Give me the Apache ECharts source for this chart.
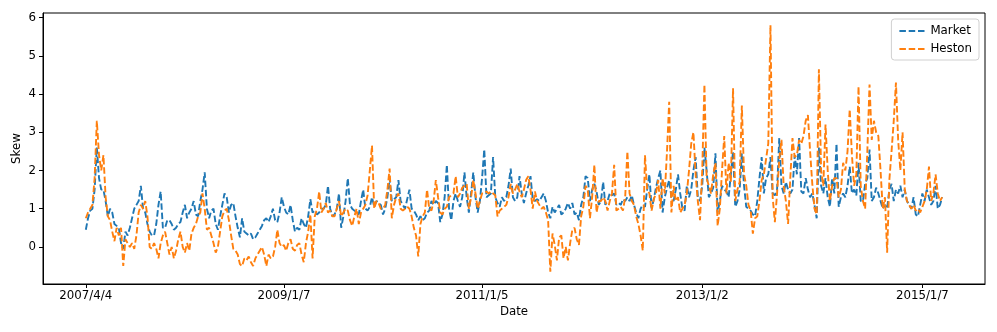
<!DOCTYPE html>
<html>
<head>
<meta charset="utf-8">
<script src="https://cdn.jsdelivr.net/npm/echarts@6/dist/echarts.min.js"></script>
<style>
  html, body { margin: 0; padding: 0; background: #fff; }
  #chart { width: 997px; height: 332px; }
</style>
</head>
<body>
<div id="chart"></div>
<script>
  // tick positions (point index) and their date labels
  let tickIndex = [0, 90, 180, 280, 380];
  let tickLabels = ['2007/4/4', '2009/1/7', '2011/1/5', '2013/1/2', '2015/1/7'];

  let market = [
    0.45, 0.75, 0.95, 1.0, 1.5, 2.6, 1.8, 1.5, 1.5, 1.2,
    0.8, 1.0, 0.9, 0.6, 0.55, 0.5, 0.1, -0.05, 0.4, 0.3,
    0.5, 0.75, 1.0, 1.1, 1.2, 1.6, 1.0, 0.9, 0.6, 0.4,
    0.3, 0.3, 0.6, 1.1, 1.45, 0.5, 0.5, 0.7, 0.7, 0.6,
    0.45, 0.5, 0.6, 0.65, 0.9, 1.1, 0.75, 0.9, 1.0, 1.2,
    0.85, 0.8, 1.2, 1.5, 1.95, 1.0, 0.75, 0.95, 1.0, 0.6,
    0.45, 0.8, 1.1, 1.4, 1.3, 0.9, 1.1, 1.15, 0.8, 0.5,
    0.25, 0.75, 0.4, 0.35, 0.3, 0.35, 0.2, 0.25, 0.35, 0.45,
    0.55, 0.7, 0.75, 0.65, 0.8, 1.0, 0.7, 0.65, 0.9, 1.3,
    1.05, 0.9, 0.85, 1.1, 0.7, 0.4, 0.5, 0.45, 0.75, 0.6,
    0.5, 0.8, 1.25, 0.9, 0.95, 0.85, 0.9, 1.0, 1.0, 1.1,
    1.6, 1.0, 0.8, 0.85, 1.0, 1.4, 0.5, 0.8, 1.2, 1.8,
    1.1, 1.0, 0.95, 0.9, 0.85, 1.2, 1.5, 1.0, 0.95, 1.05,
    1.3, 1.05, 1.2, 1.15, 1.1, 0.85, 1.0, 1.3, 1.8, 1.2,
    1.25, 1.3, 1.75, 1.2, 1.1, 1.0, 1.25, 1.5, 1.0, 0.95,
    0.85, 0.7, 0.8, 0.7, 0.75, 0.9, 0.95, 1.2, 1.1, 1.2,
    1.15, 0.65, 0.85, 1.3, 2.15, 1.0, 0.7, 1.2, 1.4, 1.2,
    1.05, 1.3, 1.95, 1.3, 0.9, 1.4, 1.95, 1.3, 0.9, 1.2,
    1.8, 2.55, 1.3, 1.35, 1.4, 2.35, 1.3, 1.15, 1.05, 1.3,
    1.2, 1.3, 1.6, 2.05, 1.3, 1.2, 1.3, 1.85, 1.4, 1.15,
    1.4, 1.6, 1.85, 1.25, 1.2, 1.25, 1.2, 1.3, 1.4, 1.2,
    0.9, 0.75, 1.05, 0.9, 1.0, 1.1, 0.85, 0.9, 1.0, 1.15,
    1.0, 1.15, 0.85, 0.9, 0.7, 1.1, 1.3, 1.85, 1.8, 1.2,
    1.5, 1.65, 1.45, 1.1, 1.2, 1.7, 1.1, 1.2, 1.4, 1.35,
    1.4, 1.1, 1.15, 1.1, 1.25, 1.2, 1.3, 1.2, 1.35, 1.1,
    0.9, 0.75, 1.0, 1.1, 1.05, 1.5, 1.9, 1.0, 1.25, 1.55,
    1.8, 2.0, 0.9, 1.3, 1.55, 1.75, 1.3, 1.2, 1.5, 1.9,
    1.4, 1.0, 0.95, 1.6, 1.3, 1.5, 2.0, 2.35, 1.3, 1.2,
    1.6, 2.6, 2.0, 1.3, 1.4, 1.55, 2.45, 0.9, 1.2, 1.6,
    1.5, 1.45, 1.3, 1.9, 2.5, 1.05, 1.2, 1.5, 2.45, 1.6,
    1.05, 1.0, 0.95, 0.85, 0.8, 1.2, 1.8, 2.35, 1.4, 1.8,
    1.9, 2.35, 1.4, 1.35, 1.5, 2.85, 1.6, 1.4, 1.7, 1.5,
    1.4, 1.5, 2.4, 1.9, 2.85, 1.45, 1.4, 1.8, 1.5, 1.3,
    1.4, 1.1, 0.75, 2.6, 1.6, 1.4, 1.8, 1.3, 1.05, 1.8,
    1.4, 2.7, 1.05, 1.3, 1.4, 1.3, 1.6, 2.1, 1.4, 1.5,
    1.35, 2.2, 1.2, 1.2, 1.65, 1.8, 2.55, 1.2, 1.3, 1.55,
    1.4, 1.2, 1.0, 1.1, 1.0, 1.5, 1.65, 1.2, 1.5, 1.4,
    1.6, 1.3, 1.5, 1.2, 1.1, 1.0, 1.3, 0.85, 0.8, 1.1,
    1.4, 1.2, 1.5, 1.3, 1.1, 1.2, 1.6, 1.0, 1.1, 1.3
  ];

  let heston = [
    0.75, 0.9, 1.0, 1.1, 1.8, 3.3, 2.4, 2.0, 2.4, 1.3,
    0.8, 0.7, 0.4, 0.15, 0.5, 0.3, 0.5, -0.5, 0.2, 0.1,
    0.0, 0.1, -0.05, 0.3, 0.9, 1.1, 1.0, 1.2, 0.8, 0.0,
    -0.05, 0.1, -0.05, -0.3, 0.1, 0.3, 0.4, 0.1, -0.2, 0.0,
    -0.3, -0.1, 0.2, 0.4, 0.0, -0.15, 0.1, -0.1, 0.35, 0.5,
    0.6, 0.8, 0.9, 1.4, 1.0, 0.45, 0.5, 0.3, 0.1, -0.15,
    0.0, 0.4, 0.8, 0.95, 1.0, 0.7, 0.3, -0.05, -0.1, -0.2,
    -0.45, -0.5, -0.3, -0.35, -0.25, -0.4, -0.5, -0.3, -0.2, -0.1,
    0.0, -0.2, -0.5, -0.2, -0.3, -0.25, 0.0, 0.45, 0.1, 0.0,
    0.05, -0.1, 0.1, 0.2, -0.05, -0.1, 0.05, 0.1, -0.2, -0.4,
    0.1, 0.4, 0.85, -0.3, 0.8, 1.0, 1.45, 0.9, 1.0, 1.15,
    0.9, 0.95, 0.8, 0.8, 1.0, 1.2, 0.8, 0.9, 1.0, 0.95,
    0.7, 0.55, 0.8, 1.0, 0.6, 0.9, 1.0, 1.1, 1.35, 2.0,
    2.65, 1.0, 1.2, 1.15, 1.0, 1.0, 1.1, 1.5, 2.05, 0.75,
    1.1, 1.3, 1.4, 1.0, 0.95, 1.0, 1.05, 1.0, 0.8, 0.5,
    0.3, -0.25, 0.6, 0.8, 0.9, 1.5, 1.0, 0.95, 1.2, 1.75,
    1.3, 0.9, 0.85, 1.0, 1.05, 1.3, 1.35, 1.4, 1.85, 1.3,
    1.4, 1.55, 1.6, 1.65, 1.0, 1.3, 1.75, 1.4, 1.0, 1.2,
    1.4, 1.4, 1.45, 1.4, 1.45, 1.4, 1.35, 0.8, 0.95, 1.0,
    1.05, 1.1, 1.3, 1.65, 1.4, 1.5, 1.65, 1.45, 1.3, 1.5,
    1.75, 1.85, 1.5, 1.0, 1.45, 1.2, 1.1, 1.0, 1.05, 0.9,
    0.7, -0.65, 0.35, 0.05, -0.35, 0.25, 0.3, -0.3, 0.0, -0.35,
    0.1, 0.45, 0.5, 0.2, 0.05, 0.8, 1.05, 1.6, 1.5, 0.75,
    1.3, 2.15, 0.9, 1.2, 1.2, 1.3, 1.2, 0.95, 1.2, 1.4,
    2.15, 0.95, 1.0, 1.05, 0.95, 1.3, 2.5, 1.4, 1.2, 1.1,
    0.8, 0.6, 0.3, -0.1, 2.4, 1.5, 1.4, 0.95, 1.25, 1.4,
    1.75, 1.0, 1.8, 1.4, 2.5, 3.8, 0.9, 1.6, 1.2, 1.3,
    0.9, 1.0, 1.1, 1.4, 2.0, 2.7, 3.0, 1.9, 1.2, 0.7,
    2.0, 4.25, 1.8, 1.6, 1.4, 1.9, 2.2, 0.55, 1.0, 2.0,
    2.9, 1.4, 2.2, 1.7, 4.15, 1.2, 1.5, 1.7, 3.7, 1.9,
    1.6, 1.1, 0.95, 0.35, 0.75, 0.8, 1.2, 1.75, 1.9, 2.3,
    2.7, 5.8, 1.3, 0.65, 1.4, 2.3, 2.8, 1.6, 1.2, 0.6,
    1.8, 2.85, 2.35, 2.4, 2.8, 2.7, 2.9, 3.3, 3.45, 2.5,
    1.65, 1.0, 0.85, 4.65, 2.0, 1.6, 3.2, 2.0, 1.2, 1.6,
    1.8, 1.8, 1.3, 1.5, 2.2, 2.0, 2.5, 3.6, 2.4, 1.6,
    1.9, 4.2, 1.6, 1.2, 1.0, 2.5, 4.25, 2.8, 3.3, 3.0,
    2.9, 2.0, 1.0, 1.3, -0.15, 1.75, 2.5, 3.3, 4.3, 2.8,
    2.0, 3.0, 1.5, 1.2, 1.1, 1.0, 1.1, 0.95, 1.0, 0.9,
    1.05, 1.2, 1.5, 2.1, 1.2, 1.4, 1.9, 1.4, 1.2, 1.3
  ];

  let yTicks = [0, 1, 2, 3, 4, 5, 6];

  let font = 'DejaVu Sans';
  let fs = 11.8;
  let dash = [6.5, 2.8];

  let chart = echarts.init(document.getElementById('chart'), null, {renderer: 'canvas'});
  let n = market.length;
  let pad = (n - 1) * 0.05;

  let option = {
    animation: false,
    backgroundColor: '#fff',
    grid: {
      left: 43, right: 12, top: 13, bottom: 48,
      outerBoundsMode: 'none',
      show: true, borderColor: '#000', borderWidth: 1
    },
    legend: {
      orient: 'vertical',
      right: 18,
      top: 19,
      padding: [6, 7, 5, 7],
      itemGap: 6,
      itemWidth: 26,
      itemHeight: 12,
      borderColor: '#d0d0d0',
      borderWidth: 1,
      borderRadius: 3,
      backgroundColor: 'rgba(255,255,255,0.8)',
      itemStyle: {opacity: 0},
      textStyle: {fontFamily: font, fontSize: fs, color: '#000'},
      data: ['Market', 'Heston']
    },
    xAxis: {
      type: 'value',
      min: -pad,
      max: n - 1 + pad,
      name: 'Date',
      nameLocation: 'middle',
      nameGap: 22,
      nameMoveOverlap: false,
      nameTextStyle: {fontFamily: font, fontSize: fs, color: '#000'},
      splitLine: {show: false},
      axisLine: {show: true, onZero: false, lineStyle: {color: '#000', width: 1}},
      axisTick: {show: true, length: 4, customValues: tickIndex, lineStyle: {color: '#000'}},
      axisLabel: {
        customValues: tickIndex,
        margin: 6,
        fontFamily: font, fontSize: fs, color: '#000',
        formatter: function (v) {
          let k = tickIndex.indexOf(Math.round(v));
          return k >= 0 ? tickLabels[k] : '';
        }
      }
    },
    yAxis: {
      type: 'value',
      min: -0.97,
      max: 6.12,
      name: 'Skew',
      nameLocation: 'middle',
      nameGap: 20,
      nameMoveOverlap: false,
      nameTextStyle: {fontFamily: font, fontSize: fs, color: '#000'},
      splitLine: {show: false},
      axisLine: {show: true, onZero: false, lineStyle: {color: '#000', width: 1}},
      axisTick: {show: true, length: 4, customValues: yTicks, lineStyle: {color: '#000'}},
      axisLabel: {
        customValues: yTicks,
        margin: 7,
        fontFamily: font, fontSize: fs, color: '#000'
      }
    },
    series: [
      {
        name: 'Market',
        type: 'line',
        symbol: 'none',
        color: '#1f77b4',
        lineStyle: {width: 1.9, type: dash, color: '#1f77b4'},
        data: market.map(function (v, i) { return [i, v]; })
      },
      {
        name: 'Heston',
        type: 'line',
        symbol: 'none',
        color: '#ff7f0e',
        lineStyle: {width: 1.9, type: dash, color: '#ff7f0e'},
        data: heston.map(function (v, i) { return [i, v]; })
      }
    ]
  };
  chart.setOption(option);
</script>
</body>
</html>
